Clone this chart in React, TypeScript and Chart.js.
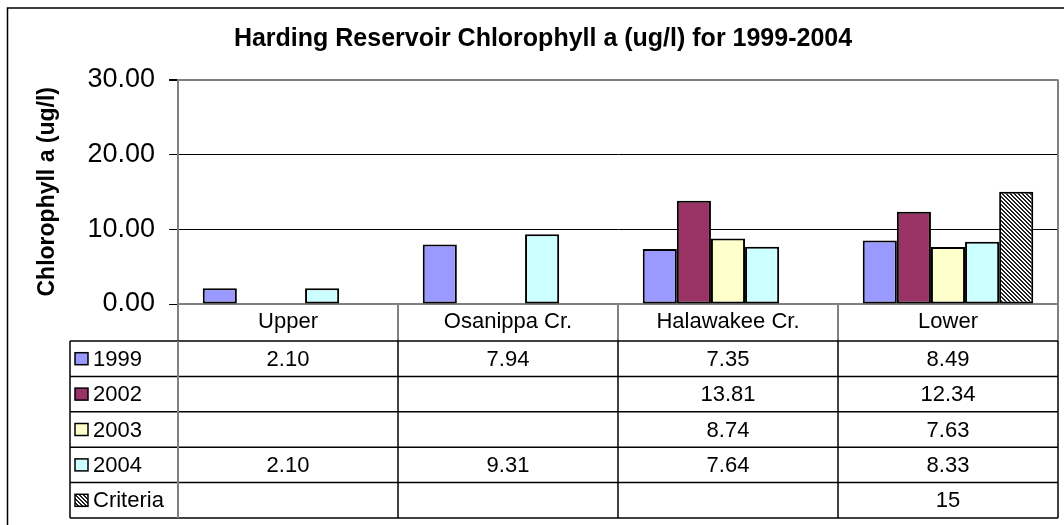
import React, { useEffect, useRef } from 'react';
import { Chart, registerables } from 'chart.js';

Chart.register(...registerables);

const categories = ['Upper', 'Osanippa Cr.', 'Halawakee Cr.', 'Lower'];
const seriesNames = ['1999', '2002', '2003', '2004', 'Criteria'];
const values1999 = [2.10, 7.94, 7.35, 8.49];
const values2002 = [null, null, 13.81, 12.34];
const values2003 = [null, null, 8.74, 7.63];
const values2004 = [2.10, 9.31, 7.64, 8.33];
const valuesCriteria = [null, null, null, 15];
const seriesColors = ['#9999FF', '#993366', '#FFFFCC', '#CCFFFF', 'hatch'];
const yMin = 0;
const yMax = 30;
const yStep = 10;

const FONT = "'Liberation Sans', Arial, sans-serif";

function makeHatch(ctx: CanvasRenderingContext2D) {
  const c = document.createElement('canvas');
  c.width = 4;
  c.height = 4;
  const g = c.getContext('2d')!;
  g.fillStyle = '#ffffff';
  g.fillRect(0, 0, 4, 4);
  g.fillStyle = '#222222';
  for (let y = 0; y < 4; y++) {
    for (let x = 0; x < 4; x++) {
      if ((x - y + 8) % 4 < 2) g.fillRect(x, y, 1, 1);
    }
  }
  return ctx.createPattern(c, 'repeat');
}

const fmt = (v: number | null, name: string) =>
  v == null ? '' : name === 'Criteria' ? String(v) : v.toFixed(2);

const tablePlugin = {
  id: 'dataTable',
  beforeDraw(chart: any) {
    const { ctx, width, height } = chart;
    ctx.save();
    ctx.fillStyle = '#ffffff';
    ctx.fillRect(0, 0, width, height);
    ctx.strokeStyle = '#000000';
    ctx.lineWidth = 1.5;
    ctx.strokeRect(7.5, 8, width + 10, height + 10);
    ctx.restore();
  },
  afterDraw(chart: any) {
    const { ctx, chartArea } = chart;
    const xs = chart.scales.x;
    const n = categories.length;
    const step = xs.getPixelForValue(1) - xs.getPixelForValue(0);
    const headerBottom = chartArea.bottom + 37;
    const rowH = 35.4;
    const tableLeft = 70;
    const dsets = chart.data.datasets;
    const tableBottom = headerBottom + rowH * dsets.length;

    ctx.save();
    // plot area right border
    ctx.strokeStyle = '#808080';
    ctx.lineWidth = 2;
    ctx.beginPath();
    ctx.moveTo(chartArea.right, chartArea.top);
    ctx.lineTo(chartArea.right, chartArea.bottom);
    ctx.stroke();

    // table grid
    ctx.strokeStyle = '#000000';
    ctx.lineWidth = 1.5;
    for (let r = 0; r <= dsets.length; r++) {
      const y = headerBottom + r * rowH;
      ctx.beginPath();
      ctx.moveTo(tableLeft, y);
      ctx.lineTo(chartArea.right, y);
      ctx.stroke();
    }
    ctx.beginPath();
    ctx.moveTo(tableLeft, headerBottom);
    ctx.lineTo(tableLeft, tableBottom);
    ctx.stroke();
    for (let i = 1; i <= n; i++) {
      const bx = xs.getPixelForValue(i) - step / 2;
      ctx.beginPath();
      ctx.moveTo(bx, headerBottom);
      ctx.lineTo(bx, tableBottom);
      ctx.stroke();
    }
    ctx.strokeStyle = '#808080';
    ctx.lineWidth = 2;
    ctx.beginPath();
    ctx.moveTo(chartArea.left, headerBottom);
    ctx.lineTo(chartArea.left, tableBottom);
    ctx.stroke();

    // rows
    ctx.font = `22px ${FONT}`;
    ctx.textBaseline = 'middle';
    dsets.forEach((ds: any, r: number) => {
      const cy = headerBottom + r * rowH + rowH / 2;
      // legend key
      ctx.fillStyle = ds.backgroundColor;
      ctx.fillRect(75, cy - 6, 13, 12);
      ctx.strokeStyle = '#000000';
      ctx.lineWidth = 1.5;
      ctx.strokeRect(75, cy - 6, 13, 12);
      ctx.fillStyle = '#000000';
      ctx.textAlign = 'left';
      ctx.fillText(ds.label, 93, cy + 1);
      ctx.textAlign = 'center';
      ds.data.forEach((v: number | null, i: number) => {
        const t = fmt(v, ds.label);
        if (t) ctx.fillText(t, xs.getPixelForValue(i), cy + 1);
      });
    });
    ctx.restore();
  },
};

export default function App() {
  const canvasRef = useRef<HTMLCanvasElement | null>(null);

  useEffect(() => {
    const canvas = canvasRef.current!;
    const ctx = canvas.getContext('2d')!;
    const hatch = makeHatch(ctx);
    const allValues = [values1999, values2002, values2003, values2004, valuesCriteria];
    const datasets = seriesNames.map((name, i) => ({
      label: name,
      data: allValues[i],
      backgroundColor: seriesColors[i] === 'hatch' ? hatch : seriesColors[i],
      borderColor: '#000000',
      borderWidth: 2,
      borderSkipped: false as const,
      categoryPercentage: 0.775,
      barPercentage: 1,
    }));

    const chart = new Chart(canvas, {
      type: 'bar',
      data: { labels: categories, datasets: datasets as any },
      plugins: [tablePlugin],
      options: {
        responsive: false,
        animation: false,
        layout: { padding: { left: 28, top: 0, right: 6, bottom: 0 } },
        plugins: {
          legend: { display: false },
          tooltip: { enabled: false },
          title: {
            display: true,
            text: 'Harding Reservoir Chlorophyll a (ug/l) for 1999-2004',
            color: '#000000',
            font: { family: FONT, size: 25, weight: 'bold' },
            padding: { top: 24, bottom: 25.5 },
          },
        },
        scales: {
          x: {
            afterFit: (s: any) => {
              s.height = 221;
            },
            grid: {
              display: true,
              drawOnChartArea: false,
              drawTicks: true,
              tickLength: 37,
              color: '#808080',
              lineWidth: 2,
              offset: true,
            },
            border: { color: '#808080', width: 2 },
            ticks: {
              padding: -32.2,
              color: '#000000',
              font: { family: FONT, size: 22 },
              maxRotation: 0,
              autoSkip: false,
            },
          },
          y: {
            min: yMin,
            max: yMax,
            afterFit: (s: any) => {
              s.width = 150;
            },
            ticks: {
              stepSize: yStep,
              padding: 14,
              color: '#000000',
              font: { family: FONT, size: 27 },
              callback: (v: any) => Number(v).toFixed(2),
            },
            grid: {
              color: (c: any) => (c.tick && c.tick.value === yMax ? '#808080' : '#000000'),
              lineWidth: (c: any) => (c.tick && c.tick.value === yMax ? 2 : 1),
              tickLength: 9,
              tickColor: '#000000',
            },
            border: { color: '#808080', width: 2 },
            title: {
              display: true,
              text: 'Chlorophyll a (ug/l)',
              color: '#000000',
              font: { family: FONT, size: 23, weight: 'bold' },
              padding: { top: 5.5, bottom: 0 },
            },
          },
        },
      },
    });
    return () => chart.destroy();
  }, []);

  return (
    <div style={{ position: 'absolute', left: 0, top: 0, width: 1064, height: 525 }}>
      <canvas ref={canvasRef} width={1064} height={525} style={{ display: 'block' }} />
    </div>
  );
}
